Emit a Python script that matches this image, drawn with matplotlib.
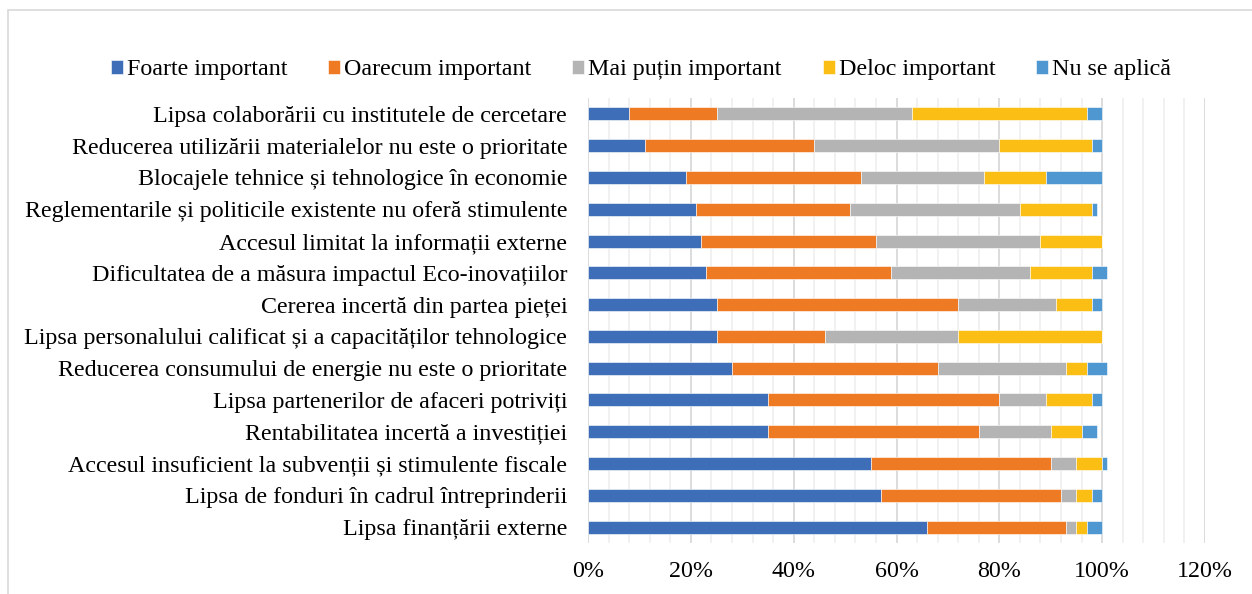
import matplotlib
matplotlib.use("Agg")
import matplotlib.pyplot as plt
from matplotlib.patches import Rectangle
from matplotlib.ticker import MultipleLocator, FuncFormatter

categories = [
    "Lipsa colaborării cu institutele de cercetare",
    "Reducerea utilizării materialelor nu este o prioritate",
    "Blocajele tehnice și tehnologice în economie",
    "Reglementarile și politicile existente nu oferă stimulente",
    "Accesul limitat la informații externe",
    "Dificultatea de a măsura impactul Eco-inovațiilor",
    "Cererea incertă din partea pieței",
    "Lipsa personalului calificat și a capacităților tehnologice",
    "Reducerea consumului de energie nu este o prioritate",
    "Lipsa partenerilor de afaceri potriviți",
    "Rentabilitatea incertă a investiției",
    "Accesul insuficient la subvenții și stimulente fiscale",
    "Lipsa de fonduri în cadrul întreprinderii",
    "Lipsa finanțării externe",
]

series_names = ["Foarte important", "Oarecum important", "Mai puțin important",
                "Deloc important", "Nu se aplică"]

foarte   = [8, 11, 19, 21, 22, 23, 25, 25, 28, 35, 35, 55, 57, 66]
oarecum  = [17, 33, 34, 30, 34, 36, 47, 21, 40, 45, 41, 35, 35, 27]
mai_put  = [38, 36, 24, 33, 32, 27, 19, 26, 25, 9, 14, 5, 3, 2]
deloc    = [34, 18, 12, 14, 12, 12, 7, 28, 4, 9, 6, 5, 3, 2]
nu_aplic = [3, 2, 11, 1, 0, 3, 2, 0, 4, 2, 3, 1, 2, 3]

xticks = [0, 20, 40, 60, 80, 100, 120]

colors = ["#3F6EB8", "#EE7B24", "#B4B4B4", "#FBBE14", "#4F97D1"]

plt.rcParams['font.family'] = ['Liberation Serif', 'DejaVu Serif']

W, H = 1252, 594
FS = 17.3
fig = plt.figure(figsize=(W / 100, H / 100), dpi=100)

# chart border (cut off at right/bottom as in reference)
fig.patches.append(Rectangle((8 / W, -0.1), 1.2, (H - 10) / H + 0.1,
                             transform=fig.transFigure, fill=False,
                             edgecolor="#D9D9D9", linewidth=1.2))

ax_l, ax_r, ax_t, ax_b = 588, 1205, 98, 543
ax = fig.add_axes([ax_l / W, 1 - ax_b / H, (ax_r - ax_l) / W, (ax_b - ax_t) / H])

data = [foarte, oarecum, mai_put, deloc, nu_aplic]
y = list(range(len(categories)))
left = [0] * len(categories)
handles = []
for name, vals, c in zip(series_names, data, colors):
    b = ax.barh(y, vals, left=left, height=0.41, color=c, label=name,
                edgecolor="white", linewidth=0.4, zorder=3)
    handles.append(b)
    left = [l + v for l, v in zip(left, vals)]

ax.set_xlim(0, 120)
ax.set_ylim(len(categories) - 0.5, -0.5)
ax.set_xticks(xticks)
ax.xaxis.set_major_formatter(FuncFormatter(lambda v, p: f"{int(v)}%"))
ax.xaxis.set_minor_locator(MultipleLocator(4))
ax.set_yticks(y)
ax.set_yticklabels(categories)
ax.grid(axis="x", which="major", color="#D9D9D9", linewidth=1.3, zorder=0)
ax.grid(axis="x", which="minor", color="#F0F0F0", linewidth=1.3, zorder=0)
for s in ax.spines.values():
    s.set_visible(False)
ax.tick_params(axis="both", which="both", length=0, labelsize=FS, colors="black")
ax.tick_params(axis="y", pad=15)
ax.tick_params(axis="x", pad=13)

fig.legend(handles=handles, labels=series_names, loc="center",
           bbox_to_anchor=(641 / W, 1 - 70 / H), ncol=5, frameon=False,
           fontsize=FS, handlelength=0.5, handleheight=0.5,
           handletextpad=0.17, columnspacing=1.7, borderaxespad=0)

fig.savefig("out.png", dpi=100)
